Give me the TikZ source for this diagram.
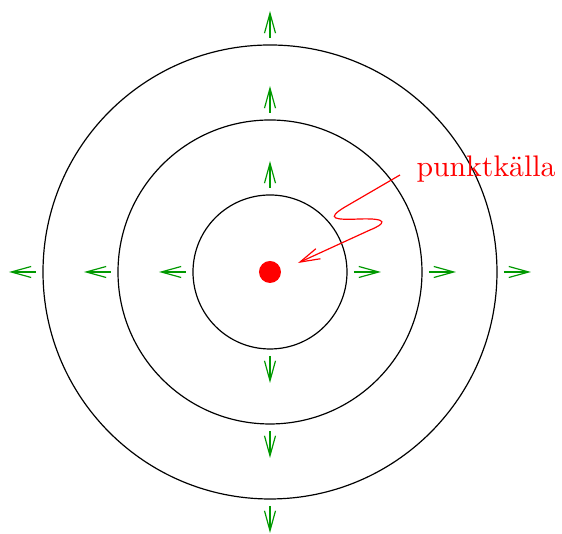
\documentclass[tikz,border=0pt]{standalone}
\usetikzlibrary{arrows.meta}
\colorlet{wavegreen}{green!60!black}
\tikzset{
  barb/.style={-{Straight Barb[length=6.7pt,width=3.7pt]}},
  ray/.style={wavegreen,barb},
}
\begin{document}
\begin{tikzpicture}[x=0.336pt,y=0.336pt]
    \useasboundingbox (-270,-262) rectangle (292,272);
    \coordinate (O) at (0,0);
    \coordinate (src) at (130,97);
    \coordinate (tip) at (28,9);
    \draw (O) circle (77) (O) circle (152) (O) circle (227);
    \fill[red] (O) circle (11);
    \begin{scope}[ray]
      \foreach \r in {77,152,227}
        \foreach \a in {0,90,180,270}
          \draw (\a:\r+7) -- (\a:\r+34);
    \end{scope}
    \node[red,anchor=base west,inner sep=0] (lbl) at (146,95) {punktkälla};
    \draw[red,barb] (src) -- (75,65) .. controls (55,53) and (65,52) .. (90,53)
      .. controls (120,54) and (115,48) .. (100,42) -- (tip);
  \end{tikzpicture}
\end{document}
